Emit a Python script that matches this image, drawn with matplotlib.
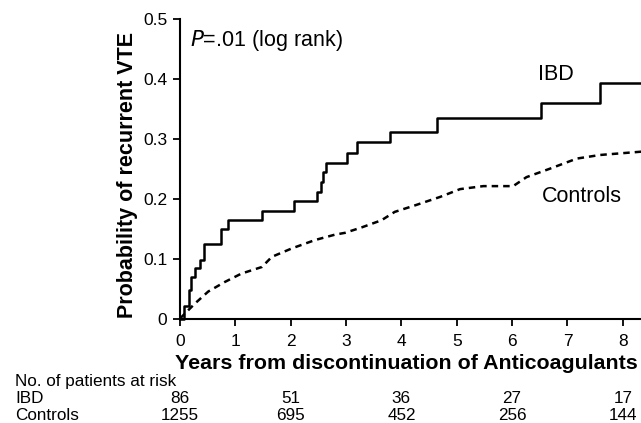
import matplotlib.pyplot as plt
import numpy as np

plt.rcParams['font.family'] = ['Liberation Sans', 'DejaVu Sans']

# IBD Kaplan-Meier step curve (years, cumulative probability)
ibd_t = [0, 0.08, 0.17, 0.20, 0.28, 0.36, 0.44, 0.74, 0.87, 1.49, 2.06, 2.47,
         2.54, 2.58, 2.63, 3.02, 3.20, 3.79, 4.64, 6.53, 7.59, 8.4]
ibd_p = [0, 0.021, 0.047, 0.070, 0.085, 0.098, 0.124, 0.149, 0.164, 0.179, 0.196, 0.211,
         0.228, 0.245, 0.260, 0.277, 0.295, 0.311, 0.334, 0.360, 0.393, 0.393]

# Controls curve
ctl_t = [0, 0.27, 0.51, 0.81, 1.11, 1.48, 1.66, 2.02, 2.44, 2.80, 2.98, 3.28, 3.64,
         3.88, 4.25, 4.70, 5.06, 5.48, 6.02, 6.26, 6.68, 7.17, 7.59, 8.4]
ctl_p = [0, 0.025, 0.045, 0.061, 0.075, 0.086, 0.103, 0.117, 0.131, 0.140, 0.143, 0.152,
         0.164, 0.178, 0.189, 0.203, 0.216, 0.221, 0.221, 0.236, 0.250, 0.267, 0.273, 0.279]

risk_years = [0, 2, 4, 6, 8]
risk_ibd = [86, 51, 36, 27, 17]
risk_ctl = [1255, 695, 452, 256, 144]

W, H = 641, 423
fig = plt.figure(figsize=(W / 100, H / 100), dpi=100)
x0, x1 = 180, 641
y0, y1 = 318.5, 19
ax = fig.add_axes([x0 / W, (H - y0) / H, (x1 - x0) / W, (y0 - y1) / H])

ax.step(ibd_t, ibd_p, where='post', color='black', lw=1.8, clip_on=False)
ax.plot(ctl_t, ctl_p, color='black', lw=1.8, dashes=(2.6, 2.0), clip_on=False)

ax.set_xlim(0, (x1 - x0) / 55.35)
ax.set_ylim(0, 0.5)
ax.set_xticks(range(0, 9))
ax.set_yticks([0, 0.1, 0.2, 0.3, 0.4, 0.5])
ax.set_yticklabels(['0', '0.1', '0.2', '0.3', '0.4', '0.5'])
for s in ['top', 'right']:
    ax.spines[s].set_visible(False)
for s in ['left', 'bottom']:
    ax.spines[s].set_linewidth(1.5)
ax.tick_params(direction='out', length=5, width=1.3, labelsize=12.5)
ax.tick_params(axis='x', pad=6)
ax.tick_params(axis='y', pad=4)

fig.text(127 / W, 1 - 175 / H, 'Probability of recurrent VTE', fontsize=15.5,
         fontweight='bold', rotation=90, ha='center', va='center')

ax.text(0.18, 0.464, r'$\it{P}$=.01 (log rank)', fontsize=15.5, va='center', ha='left')
ax.text(6.79, 0.407, 'IBD', fontsize=15.5, va='center', ha='center')
ax.text(7.26, 0.204, 'Controls', fontsize=15.5, va='center', ha='center')

fig.text(406 / W, 1 - 363 / H, 'Years from discontinuation of Anticoagulants',
         fontsize=15.4, fontweight='bold', ha='center', va='center')

fig.text(15 / W, 1 - 381 / H, 'No. of patients at risk', fontsize=12.3, va='center')
fig.text(15 / W, 1 - 398 / H, 'IBD', fontsize=12.3, va='center')
fig.text(15 / W, 1 - 415 / H, 'Controls', fontsize=12.3, va='center')
for yr, a, b in zip(risk_years, risk_ibd, risk_ctl):
    px = (x0 + yr * 55.35) / W
    fig.text(px, 1 - 398 / H, str(a), fontsize=12.3, va='center', ha='center')
    fig.text(px, 1 - 415 / H, str(b), fontsize=12.3, va='center', ha='center')

fig.savefig('out.png', dpi=100)
